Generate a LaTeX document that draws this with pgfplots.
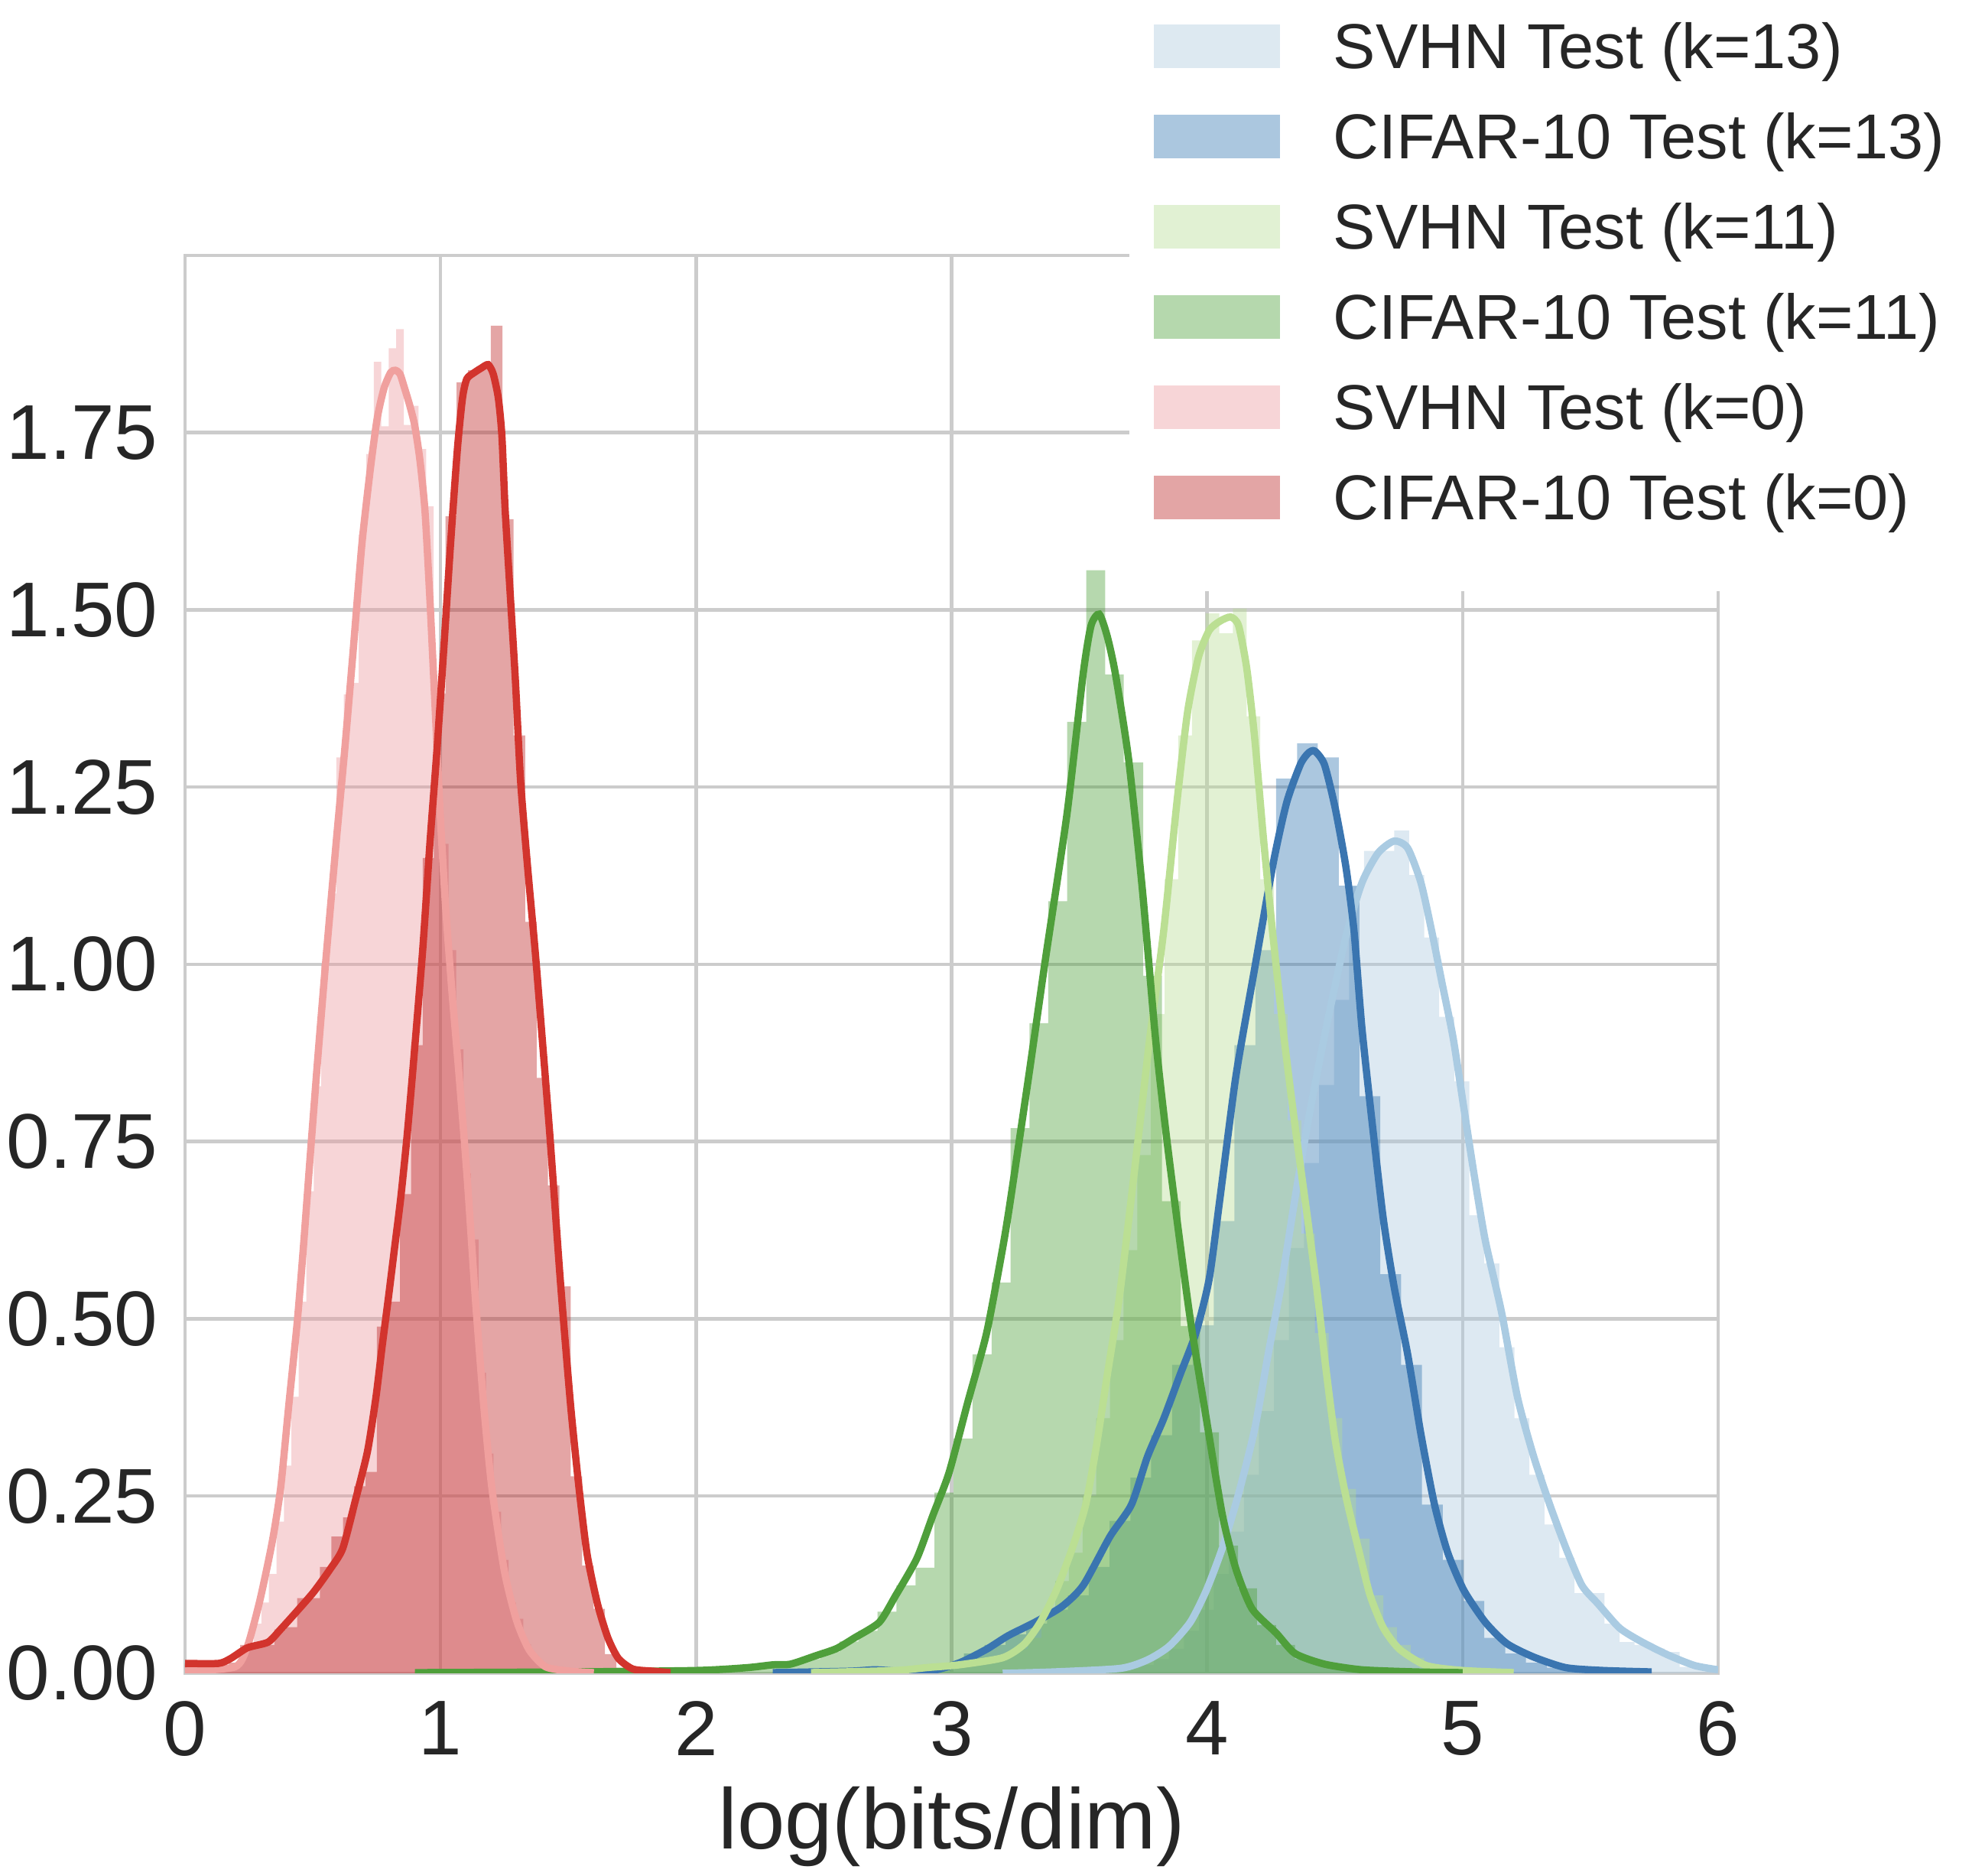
\documentclass[border=0pt]{standalone}
\usepackage{fontspec}
\setmainfont{Liberation Sans}
\usepackage{pgfplots}
\pgfplotsset{compat=1.18}
\definecolor{txt}{HTML}{262626}
\definecolor{gridc}{HTML}{CCCCCC}
\definecolor{hA}{HTML}{AAC8DE}\definecolor{lA}{HTML}{AACBE2}
\definecolor{hB}{HTML}{2D73AF}\definecolor{lB}{HTML}{3A75B0}
\definecolor{hC}{HTML}{B6DC91}\definecolor{lC}{HTML}{BBDF93}
\definecolor{hD}{HTML}{489E34}\definecolor{lD}{HTML}{4F9F3B}
\definecolor{hE}{HTML}{EB969B}\definecolor{lE}{HTML}{F0A09E}
\definecolor{hF}{HTML}{BB1E1E}\definecolor{lF}{HTML}{D2342D}
\pgfplotsset{
  hist/.style={const plot, fill=#1, fill opacity=0.4, draw=none,
    legend image code/.code={\fill[fill=#1,fill opacity=0.4] (0mm,-2.85mm) rectangle (16.5mm,2.85mm);}},
  kde/.style={color=#1, line width=0.95mm, smooth, tension=0.4, mark=none, forget plot},
}
\begin{document}
\begin{tikzpicture}
\useasboundingbox (-24.2mm,-26.5mm) rectangle (233.7mm,218.8mm);
\begin{axis}[
  scale only axis, width=200.5mm, height=185.4mm,
  xmin=0, xmax=6, ymin=0, ymax=2,
  xtick={0,1,2,3,4,5,6}, ytick={0,0.25,0.5,0.75,1,1.25,1.5,1.75},
  grid=major, grid style={gridc, line width=0.45mm},
  axis line style={gridc, line width=0.45mm},
  major tick length=0pt,
  /pgf/number format/assume math mode=true,
  tick label style={font=\fontsize{28.9}{34}\selectfont, text=txt, inner sep=0pt},
  xticklabel style={anchor=north, yshift=-3.6mm},
  yticklabel style={anchor=east, xshift=-3.5mm, /pgf/number format/fixed, /pgf/number format/fixed zerofill, /pgf/number format/precision=2},
  xlabel={log(bits/dim)},
  xlabel style={font=\fontsize{31.9}{38}\selectfont, text=txt, at={(axis description cs:0.5,0)}, anchor=base, yshift=-23mm, inner sep=0pt},
  legend cell align=left,
  legend style={draw=none, fill=white, at={(0.6155,1.2142)}, anchor=north west,
    inner xsep=3.2mm, inner ysep=9.3mm, font=\fontsize{23.6}{28}\selectfont, text=txt,
    row sep=5.86mm, nodes={inner sep=0pt, text height=5.94mm, text depth=0pt},
    /tikz/every odd column/.append style={column sep=7mm}},
]
% ---------- histograms ----------
% SVHN k=13
\addplot[hist=hA] coordinates {(3.556,0.002) (3.615,0.004) (3.673,0.007) (3.732,0.012) (3.791,0.020) (3.850,0.035) (3.909,0.060) (3.968,0.090) (4.026,0.140) (4.085,0.200) (4.144,0.280) (4.203,0.370) (4.262,0.470) (4.320,0.600) (4.379,0.720) (4.438,0.830) (4.497,0.950) (4.556,1.110) (4.614,1.160) (4.673,1.160) (4.732,1.189) (4.791,1.126) (4.850,1.038) (4.908,0.926) (4.967,0.835) (5.026,0.646) (5.085,0.578) (5.144,0.460) (5.203,0.360) (5.261,0.280) (5.320,0.210) (5.379,0.163) (5.438,0.113) (5.497,0.113) (5.555,0.070) (5.614,0.044) (5.673,0.040) (5.732,0.035) (5.791,0.030) (5.849,0.009) (5.908,0.008) (5.967,0.005) (6.026,0)} \closedcycle;
\addlegendentry{SVHN Test (k=13)}
% CIFAR k=13
\addplot[hist=hB] coordinates {(2.300,0.002) (2.885,0.006) (2.966,0.015) (3.048,0.028) (3.129,0.040) (3.211,0.055) (3.292,0.070) (3.374,0.090) (3.455,0.110) (3.537,0.150) (3.618,0.215) (3.700,0.276) (3.781,0.336) (3.863,0.435) (3.944,0.491) (4.026,0.638) (4.107,0.886) (4.189,1.020) (4.270,1.262) (4.352,1.312) (4.433,1.292) (4.515,1.111) (4.596,0.814) (4.678,0.563) (4.759,0.435) (4.841,0.238) (4.922,0.160) (5.004,0.102) (5.085,0.050) (5.167,0.028) (5.248,0.015) (5.330,0.008) (5.411,0.005) (5.493,0.003) (5.574,0.002) (5.656,0.001) (5.737,0)} \closedcycle;
\addlegendentry{CIFAR-10 Test (k=13)}
% SVHN k=11
\addplot[hist=hC] coordinates {(2.817,0.004) (2.871,0.005) (2.924,0.008) (2.978,0.010) (3.031,0.013) (3.085,0.016) (3.138,0.020) (3.192,0.025) (3.245,0.035) (3.299,0.050) (3.352,0.080) (3.406,0.130) (3.459,0.170) (3.513,0.250) (3.566,0.360) (3.620,0.470) (3.673,0.597) (3.727,0.731) (3.780,0.930) (3.834,1.120) (3.887,1.323) (3.941,1.457) (3.994,1.495) (4.048,1.467) (4.101,1.502) (4.155,1.350) (4.208,1.120) (4.262,0.930) (4.315,0.780) (4.369,0.620) (4.422,0.480) (4.476,0.360) (4.529,0.260) (4.583,0.190) (4.636,0.110) (4.690,0.065) (4.743,0.040) (4.797,0.022) (4.850,0.012) (4.904,0.007) (4.957,0.004) (5.011,0)} \closedcycle;
\addlegendentry{SVHN Test (k=11)}
% CIFAR k=11
\addplot[hist=hD] coordinates {(0.900,0.002) (2.039,0.004) (2.114,0.006) (2.188,0.010) (2.263,0.012) (2.337,0.012) (2.412,0.020) (2.486,0.030) (2.561,0.045) (2.635,0.060) (2.710,0.087) (2.784,0.124) (2.859,0.149) (2.933,0.255) (3.008,0.331) (3.082,0.450) (3.157,0.551) (3.231,0.769) (3.305,0.917) (3.378,1.089) (3.452,1.342) (3.527,1.556) (3.601,1.409) (3.674,1.285) (3.750,0.984) (3.823,0.666) (3.897,0.490) (3.972,0.340) (4.046,0.180) (4.121,0.120) (4.195,0.068) (4.270,0.040) (4.344,0.020) (4.419,0.012) (4.493,0.006) (4.568,0.004) (4.642,0.002) (4.940,0)} \closedcycle;
\addlegendentry{CIFAR-10 Test (k=11)}
% SVHN k=0
\addplot[hist=hE] coordinates {(0.123,0.003) (0.152,0.005) (0.182,0.008) (0.211,0.020) (0.240,0.040) (0.270,0.070) (0.299,0.100) (0.328,0.140) (0.358,0.214) (0.387,0.293) (0.416,0.390) (0.445,0.524) (0.475,0.680) (0.504,0.828) (0.533,1.000) (0.563,1.100) (0.592,1.292) (0.621,1.381) (0.651,1.397) (0.680,1.606) (0.709,1.720) (0.739,1.850) (0.768,1.759) (0.797,1.869) (0.826,1.896) (0.856,1.761) (0.885,1.788) (0.914,1.727) (0.944,1.646) (0.973,1.400) (1.002,1.170) (1.031,1.020) (1.061,0.880) (1.090,0.705) (1.119,0.612) (1.149,0.424) (1.178,0.310) (1.207,0.228) (1.237,0.160) (1.266,0.100) (1.295,0.077) (1.324,0.041) (1.354,0.025) (1.383,0.012) (1.412,0.007) (1.442,0.004) (1.471,0.002) (1.500,0)} \closedcycle;
\addlegendentry{SVHN Test (k=0)}
% CIFAR k=0
\addplot[hist=hF] coordinates {(0.000,0.012) (0.082,0.012) (0.127,0.012) (0.172,0.015) (0.216,0.040) (0.261,0.040) (0.305,0.040) (0.350,0.062) (0.395,0.065) (0.439,0.106) (0.484,0.106) (0.528,0.150) (0.573,0.193) (0.618,0.220) (0.662,0.264) (0.707,0.284) (0.751,0.489) (0.796,0.524) (0.841,0.676) (0.885,0.886) (0.930,1.150) (0.974,1.382) (1.019,1.632) (1.063,1.821) (1.108,1.838) (1.153,1.845) (1.197,1.901) (1.242,1.628) (1.286,1.323) (1.331,1.060) (1.376,0.840) (1.420,0.688) (1.465,0.546) (1.509,0.278) (1.554,0.152) (1.599,0.091) (1.643,0.027) (1.688,0.008) (1.732,0.002) (1.777,0)} \closedcycle;
\addlegendentry{CIFAR-10 Test (k=0)}
% ---------- KDE lines ----------
\addplot[kde=lA] coordinates {(3.2,0.000) (3.4,0.002) (3.661,0.007) (3.767,0.019) (3.851,0.038) (3.934,0.072) (3.997,0.117) (4.06,0.177) (4.123,0.253) (4.186,0.344) (4.239,0.45) (4.291,0.55) (4.344,0.67) (4.396,0.78) (4.46,0.90) (4.543,1.039) (4.606,1.115) (4.669,1.157) (4.732,1.174) (4.785,1.164) (4.837,1.115) (4.879,1.047) (4.921,0.971) (4.963,0.896) (5.005,0.797) (5.047,0.699) (5.089,0.61) (5.152,0.51) (5.215,0.389) (5.278,0.306) (5.341,0.238) (5.404,0.177) (5.467,0.124) (5.53,0.098) (5.614,0.064) (5.698,0.045) (5.803,0.026) (5.908,0.011) (6.0,0.005)};
\addplot[kde=lB] coordinates {(2.3,0.001) (2.6,0.003) (2.7,0.005) (2.8,0.003) (2.927,0.004) (3.032,0.015) (3.137,0.034) (3.221,0.053) (3.326,0.072) (3.431,0.094) (3.515,0.124) (3.62,0.193) (3.704,0.238) (3.767,0.306) (3.83,0.359) (3.893,0.42) (3.956,0.48) (4.008,0.556) (4.05,0.669) (4.113,0.843) (4.186,0.994) (4.26,1.145) (4.312,1.229) (4.365,1.282) (4.396,1.298) (4.421,1.301) (4.459,1.282) (4.501,1.221) (4.543,1.138) (4.575,1.047) (4.606,0.91) (4.648,0.77) (4.69,0.64) (4.732,0.545) (4.785,0.450) (4.837,0.337) (4.89,0.238) (4.942,0.170) (5.005,0.117) (5.089,0.072) (5.173,0.042) (5.278,0.023) (5.404,0.008) (5.551,0.004) (5.74,0.002)};
\addplot[kde=lC] coordinates {(2.45,0.001) (2.78,0.004) (2.9,0.008) (3.03,0.012) (3.2,0.022) (3.284,0.041) (3.347,0.072) (3.41,0.117) (3.473,0.177) (3.525,0.238) (3.567,0.321) (3.609,0.42) (3.655,0.526) (3.70,0.66) (3.745,0.80) (3.777,0.90) (3.83,1.047) (3.882,1.229) (3.924,1.357) (3.966,1.433) (4.008,1.471) (4.05,1.484) (4.092,1.49) (4.123,1.478) (4.155,1.418) (4.186,1.32) (4.22,1.18) (4.255,1.05) (4.30,0.90) (4.345,0.77) (4.39,0.65) (4.43,0.54) (4.465,0.43) (4.501,0.33) (4.543,0.25) (4.596,0.17) (4.638,0.11) (4.69,0.064) (4.753,0.034) (4.858,0.011) (5.0,0.004) (5.2,0.001)};
\addplot[kde=lD] coordinates {(0.9,0.001) (1.5,0.002) (2.0,0.004) (2.2,0.008) (2.3,0.012) (2.37,0.013) (2.47,0.025) (2.55,0.035) (2.62,0.05) (2.717,0.072) (2.78,0.109) (2.864,0.162) (2.927,0.223) (2.99,0.283) (3.063,0.382) (3.137,0.48) (3.2,0.60) (3.231,0.669) (3.305,0.85) (3.368,1.009) (3.452,1.213) (3.515,1.41) (3.546,1.478) (3.578,1.494) (3.609,1.463) (3.641,1.41) (3.693,1.289) (3.746,1.108) (3.798,0.896) (3.84,0.76) (3.882,0.64) (3.934,0.50) (3.997,0.359) (4.06,0.223) (4.113,0.147) (4.176,0.091) (4.27,0.057) (4.344,0.028) (4.459,0.013) (4.606,0.005) (4.816,0.002) (5.0,0.001)};
\addplot[kde=lE] coordinates {(0.0,0.003) (0.195,0.009) (0.244,0.038) (0.293,0.103) (0.341,0.185) (0.374,0.261) (0.406,0.378) (0.439,0.495) (0.463,0.60) (0.49,0.73) (0.52,0.87) (0.552,1.01) (0.592,1.174) (0.625,1.303) (0.659,1.447) (0.692,1.592) (0.725,1.698) (0.752,1.77) (0.779,1.813) (0.805,1.835) (0.823,1.838) (0.841,1.833) (0.859,1.813) (0.879,1.789) (0.899,1.76) (0.919,1.712) (0.939,1.64) (0.959,1.51) (0.979,1.36) (0.999,1.21) (1.02,1.08) (1.045,0.96) (1.071,0.85) (1.104,0.70) (1.136,0.53) (1.169,0.378) (1.201,0.261) (1.25,0.144) (1.298,0.074) (1.347,0.033) (1.412,0.009) (1.509,0.003) (1.6,0.001)};
\addplot[kde=lF] coordinates {(0.0,0.014) (0.131,0.014) (0.179,0.021) (0.244,0.036) (0.325,0.044) (0.374,0.062) (0.439,0.088) (0.504,0.115) (0.568,0.147) (0.617,0.176) (0.666,0.243) (0.714,0.313) (0.747,0.389) (0.771,0.46) (0.796,0.53) (0.82,0.60) (0.844,0.67) (0.869,0.758) (0.893,0.857) (0.93,1.02) (0.959,1.174) (0.986,1.303) (1.013,1.447) (1.039,1.592) (1.066,1.727) (1.086,1.799) (1.103,1.826) (1.133,1.835) (1.159,1.841) (1.186,1.846) (1.206,1.833) (1.226,1.799) (1.24,1.746) (1.253,1.64) (1.273,1.52) (1.293,1.40) (1.313,1.26) (1.34,1.14) (1.37,1.02) (1.396,0.904) (1.428,0.758) (1.469,0.553) (1.509,0.378) (1.542,0.261) (1.574,0.167) (1.615,0.097) (1.655,0.05) (1.696,0.021) (1.753,0.006) (1.834,0.003) (1.9,0.001)};
\end{axis}
\end{tikzpicture}
\end{document}
